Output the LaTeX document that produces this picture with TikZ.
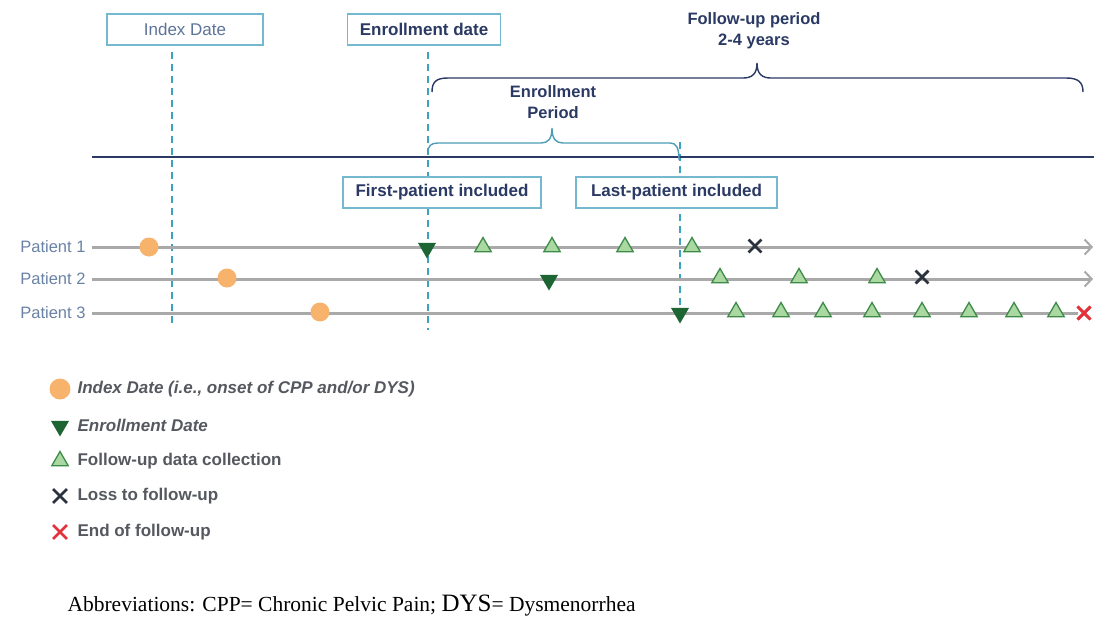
\documentclass[tikz,border=0pt]{standalone}
\usepackage{fontspec}
\setmainfont{Liberation Sans}
\newfontfamily\serifabbr{Liberation Serif}
\usetikzlibrary{arrows.meta,shapes.geometric,shapes.misc}
\definecolor{navy}{HTML}{2B3A64}
\definecolor{boxc}{HTML}{74B9CF}
\definecolor{dashc}{HTML}{3DA2C2}
\definecolor{linec}{HTML}{A9A9A9}
\definecolor{orng}{HTML}{F7B36B}
\definecolor{dkgreen}{HTML}{1D6634}
\definecolor{ltgreen}{HTML}{A9D9A1}
\definecolor{midgreen}{HTML}{3E8A48}
\definecolor{crossc}{HTML}{29323D}
\definecolor{redx}{HTML}{E2323C}
\definecolor{ptlabel}{HTML}{6A82A6}
\definecolor{legtext}{HTML}{55595F}
\definecolor{brc}{HTML}{4A9DB4}
\tikzset{
  tbox/.style={draw=boxc, line width=1.2pt, fill=white, minimum height=31pt, inner sep=0pt},
  vdash/.style={dashc, line width=1.8pt, dash pattern=on 7pt off 5pt},
  ptline/.style={linec, line width=3pt},
  ptarrow/.style={ptline, -{Straight Barb[length=7pt,width=15pt,line width=2pt]}},
  idx/.style={circle, fill=orng, minimum size=19pt, inner sep=0pt},
  enr/.style={regular polygon, regular polygon sides=3, shape border rotate=180, fill=dkgreen, minimum size=21pt, inner sep=0pt},
  fu/.style={regular polygon, regular polygon sides=3, fill=ltgreen, draw=midgreen, line width=1.3pt, minimum size=19pt, inner sep=0pt},
  lossx/.style={cross out, draw=crossc, line width=2.8pt, minimum size=10pt, inner sep=0pt},
  endx/.style={cross out, draw=redx, line width=2.8pt, minimum size=10pt, inner sep=0pt},
  plabel/.style={anchor=east, text=ptlabel, font=\fontsize{16.5}{18}\selectfont},
  legt/.style={anchor=west, text=legtext, font=\fontsize{17}{19}\selectfont\bfseries},
  hdr/.style={text=navy, font=\fontsize{16.5}{21}\selectfont\bfseries, align=center},
  boxfont/.style={font=\fontsize{17}{19}\selectfont\bfseries, text=navy}
}
\begin{document}
\begin{tikzpicture}[x=1pt,y=-1pt]
\useasboundingbox[fill=white] (0,0) rectangle (1094,619);

% dashed lines
\draw[vdash] (172,52) -- (172,326);
\draw[vdash] (428,52) -- (428,330);
\draw[vdash] (680,142) -- (680,318);

% horizontal line
\draw[navy, line width=1.4pt] (92,157) -- (1094,157);

% header boxes
\node[tbox, minimum width=156pt, text=ptlabel!80!navy, font=\fontsize{17}{19}\selectfont] (idxbox) at (185,29.5) {Index Date};
\node[tbox, boxfont, minimum width=153pt] (enrbox) at (424,29.5) {Enrollment date};
\node[tbox, boxfont, minimum width=198pt] (firstbox) at (442,192.5) {First-patient included};
\node[tbox, boxfont, minimum width=201pt] (lastbox) at (676.5,192.5) {Last-patient included};

% follow-up brace
\node[hdr] (futext) at (754,31) {Follow-up period\\2-4 years};
\draw[navy, line width=1.4pt] (432,92) .. controls (432,82) and (436,78) .. (448,78) -- (743,78) .. controls (752,78) and (757,74) .. (757,63) .. controls (757,74) and (762,78) .. (771,78) -- (1066,78) .. controls (1078,78) and (1083,82) .. (1083,92);

% enrollment brace
\node[hdr] (entext) at (553,102) {Enrollment\\Period};
\draw[brc, line width=1.4pt] (428,152) .. controls (428,146) and (431,143) .. (438,143) -- (541,143) .. controls (548,143) and (552,139) .. (552,128) .. controls (552,139) and (556,143) .. (563,143) -- (670,143) .. controls (676,143) and (679,147) .. (679,160);

% patient labels
\node[plabel] (p1) at (89,247) {Patient 1};
\node[plabel] (p2) at (89,279) {Patient 2};
\node[plabel] (p3) at (89,313) {Patient 3};

% patient lines
\coordinate (e1) at (1093,247);
\coordinate (e2) at (1093,279);
\draw[ptarrow] (p1.east) ++(3pt,0) -- (e1);
\draw[ptarrow] (p2.east) ++(3pt,0) -- (e2);

% patient 3 end
\node[endx] (x3) at (1084,313) {};
\draw[ptline] (p3.east) ++(3pt,0) -- (x3.west);

% patient 1 markers
\node[idx] (i1) at (149,247) {};
\node[enr] (n1) at (427,248) {};
\foreach \x [count=\k] in {483,552,625,692} \node[fu] (f1\k) at (\x,247) {};
\node[lossx] (l1) at (755,246) {};

% patient 2 markers
\node[idx] (i2) at (227,278) {};
\node[enr] (n2) at (549,280) {};
\foreach \x [count=\k] in {720,799,877} \node[fu] (f2\k) at (\x,278) {};
\node[lossx] (l2) at (922,277) {};

% patient 3 markers
\node[idx] (i3) at (320,312) {};
\node[enr] (n3) at (680,313) {};
\foreach \x [count=\k] in {736,781,823,872,922,969,1014,1056} \node[fu] (f3\k) at (\x,312) {};
\node[endx] (x3b) at (1084,313) {};

% legend
\node[idx, minimum size=21pt] (lg1) at (60,389) {};
\node[legt, font=\fontsize{17}{19}\selectfont\bfseries\itshape] (lt1) at (74,389) {Index Date (i.e., onset of CPP and/or DYS)};
\node[enr] (lg2) at (60,426) {};
\node[legt, font=\fontsize{17}{19}\selectfont\bfseries\itshape] (lt2) at (74,425) {Enrollment Date};
\node[fu] (lg3) at (60,461) {};
\node[legt] (lt3) at (74,461) {Follow-up data collection};
\node[lossx, minimum size=11pt] (lg4) at (60,496) {};
\node[legt] (lt4) at (74,496) {Loss to follow-up};
\node[endx, minimum size=11pt] (lg5) at (60,532) {};
\node[legt] (lt5) at (74,532) {End of follow-up};

% abbreviations
\node[anchor=west, text=black, font=\serifabbr\fontsize{21.5}{24}\selectfont] (abbr) at (64,606) {Abbreviations: CPP= Chronic Pelvic Pain; {\fontsize{25}{24}\selectfont DYS}= Dysmenorrhea};
\end{tikzpicture}
\end{document}
